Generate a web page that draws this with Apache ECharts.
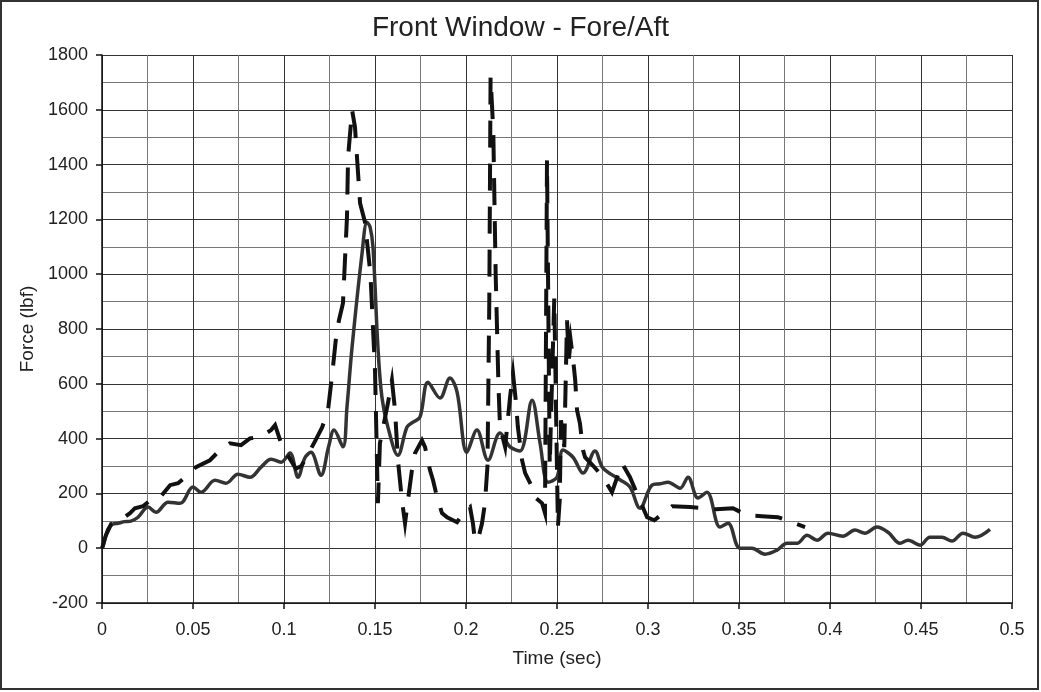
<!DOCTYPE html>
<html>
<head>
<meta charset="utf-8">
<style>
html,body{margin:0;padding:0;background:#fff;}
#chart{width:1041px;height:692px;}
</style>
<script src="https://cdn.jsdelivr.net/npm/echarts@6/dist/echarts.min.js"></script>
</head>
<body>
<div id="chart"></div>
<script>
// ---- data ----
const xTickLabels = ['0','0.05','0.1','0.15','0.2','0.25','0.3','0.35','0.4','0.45','0.5'];
const yTickLabels = ['-200','0','200','400','600','800','1000','1200','1400','1600','1800'];

const solidTime = [0,0.0005,0.0033,0.006,0.0088,0.0125,0.0159,0.0198,0.0253,0.0297,0.0363,0.0429,0.05,0.0544,0.0621,0.0681,0.0747,0.0813,0.0874,0.0929,0.0984,0.1033,0.1077,0.1115,0.1148,0.1203,0.1245,0.1275,0.1324,0.1346,0.1374,0.1429,0.1456,0.1473,0.1489,0.1516,0.1538,0.1571,0.1626,0.1676,0.1709,0.1747,0.1791,0.1857,0.1912,0.1951,0.2005,0.206,0.2121,0.2187,0.2242,0.2297,0.2363,0.2407,0.2451,0.25,0.2533,0.2588,0.2643,0.2709,0.2753,0.2846,0.2901,0.2956,0.3022,0.3066,0.311,0.3176,0.322,0.3275,0.3324,0.3396,0.344,0.3505,0.3571,0.3643,0.3709,0.3764,0.3819,0.3874,0.3929,0.3989,0.4071,0.4137,0.4192,0.4258,0.4319,0.4385,0.4429,0.4495,0.4549,0.4615,0.467,0.4731,0.4797,0.4879];
const solidForce = [0,5,70,88,91,97,99,113,150,131,168,164,223,204,248,237,270,259,296,325,314,347,259,330,350,266,370,431,370,515,734,1077,1190,1172,1099,734,551,442,339,442,460,478,606,548,621,570,350,431,321,420,370,355,540,383,241,259,358,332,274,355,292,250,223,146,230,235,241,219,259,183,204,77,91,0,0,-22,-7,18,18,47,29,55,44,66,55,77,58,18,29,11,40,40,26,55,40,69];

const dashTime = [0,0.002,0.005,0.0077,0.0154,0.0181,0.0225,0.028,0.0319,0.0374,0.0418,0.0456,0.0516,0.0593,0.0648,0.0703,0.0764,0.0813,0.0868,0.0929,0.0951,0.0984,0.102,0.1065,0.1095,0.113,0.117,0.121,0.1242,0.1269,0.1286,0.1302,0.1324,0.1346,0.1352,0.1374,0.139,0.1401,0.1418,0.1445,0.1475,0.15,0.1516,0.1527,0.1571,0.1593,0.161,0.1626,0.1648,0.1665,0.1681,0.1703,0.172,0.1758,0.1775,0.1802,0.1819,0.1841,0.1868,0.1896,0.1951,0.1984,0.2022,0.2038,0.2049,0.2065,0.2088,0.2104,0.2118,0.2128,0.2135,0.215,0.2163,0.2178,0.2187,0.2215,0.2242,0.2258,0.2275,0.2285,0.2308,0.2325,0.2363,0.2379,0.2418,0.2434,0.2445,0.246,0.2485,0.2505,0.2515,0.2522,0.254,0.2555,0.2565,0.2575,0.259,0.26,0.261,0.2626,0.2643,0.2654,0.27,0.2753,0.2802,0.2857,0.2901,0.2995,0.3035,0.3132,0.3231,0.3374,0.3467,0.3544,0.3626,0.3714,0.3863];
const dashForce = [0,45,88,92,128,146,153,183,186,230,237,259,296,321,358,383,376,401,405,431,449,383,340,290,300,340,390,442,504,661,770,832,894,1208,1427,1599,1537,1427,1259,1190,1000,650,164,383,529,613,504,321,175,91,175,285,347,394,369,285,248,186,128,113,95,128,150,91,29,29,91,164,300,900,1720,1520,1000,600,442,369,551,639,529,442,321,274,223,186,164,128,1416,300,913,77,175,467,369,832,686,759,679,613,504,456,358,332,300,259,204,310,259,113,102,153,150,142,146,120,117,113,77];

// ---- build ----
const zip = (a, b) => a.map((v, i) => [v, b[i]]);
const FONT = '"Liberation Sans", Arial, Helvetica, sans-serif';

const chart = echarts.init(document.getElementById('chart'), null, {renderer: 'canvas'});
chart.setOption({
  backgroundColor: '#ffffff',
  animation: false,
  title: {
    text: 'Front Window - Fore/Aft',
    left: 'center',
    top: 9,
    textStyle: {fontFamily: FONT, fontSize: 28, fontWeight: 'normal', color: '#222'}
  },
  graphic: [{
    type: 'rect',
    shape: {x: 1, y: 1, width: 1037, height: 688},
    style: {fill: 'none', stroke: '#333', lineWidth: 2},
    silent: true, z: 100
  }],
  grid: {left: 102, right: 29, top: 55, bottom: 89, containLabel: false},
  xAxis: {
    type: 'value', min: 0, max: 0.5, interval: 0.05,
    name: 'Time (sec)', nameLocation: 'middle', nameGap: 46,
    nameTextStyle: {fontFamily: FONT, fontSize: 19, color: '#222'},
    axisLine: {show: true, onZero: false, lineStyle: {color: '#111', width: 1.5}},
    axisTick: {show: true, length: 6, lineStyle: {color: '#111', width: 1.5}},
    axisLabel: {
      fontFamily: FONT, fontSize: 18, color: '#222', margin: 18,
      formatter: v => xTickLabels[Math.round(v / 0.05)]
    },
    splitLine: {show: true, lineStyle: {color: '#333', width: 1}},
    minorTick: {show: false, splitNumber: 2},
    minorSplitLine: {show: true, lineStyle: {color: '#777', width: 1}}
  },
  yAxis: {
    type: 'value', min: -200, max: 1800, interval: 200,
    name: 'Force (lbf)', nameLocation: 'middle', nameGap: 60, nameRotate: 90,
    nameTextStyle: {fontFamily: FONT, fontSize: 19, color: '#222'},
    axisLine: {show: true, onZero: false, lineStyle: {color: '#111', width: 1.5}},
    axisTick: {show: true, length: 6, lineStyle: {color: '#111', width: 1.5}},
    axisLabel: {
      fontFamily: FONT, fontSize: 18, color: '#222', margin: 14,
      formatter: v => yTickLabels[Math.round((v + 200) / 200)]
    },
    splitLine: {show: true, lineStyle: {color: '#333', width: 1}},
    minorTick: {show: false, splitNumber: 2},
    minorSplitLine: {show: true, lineStyle: {color: '#777', width: 1}}
  },
  series: [
    {
      type: 'line', name: 'solid',
      data: zip(solidTime, solidForce),
      showSymbol: false, smooth: 0.35,
      lineStyle: {color: '#333', width: 3.5},
      z: 3
    },
    {
      type: 'line', name: 'dashed',
      data: zip(dashTime, dashForce),
      showSymbol: false, smooth: false,
      lineStyle: {color: '#111', width: 4, type: [27, 16], cap: 'butt', join: 'miter'},
      z: 4
    }
  ]
});
</script>
</body>
</html>
